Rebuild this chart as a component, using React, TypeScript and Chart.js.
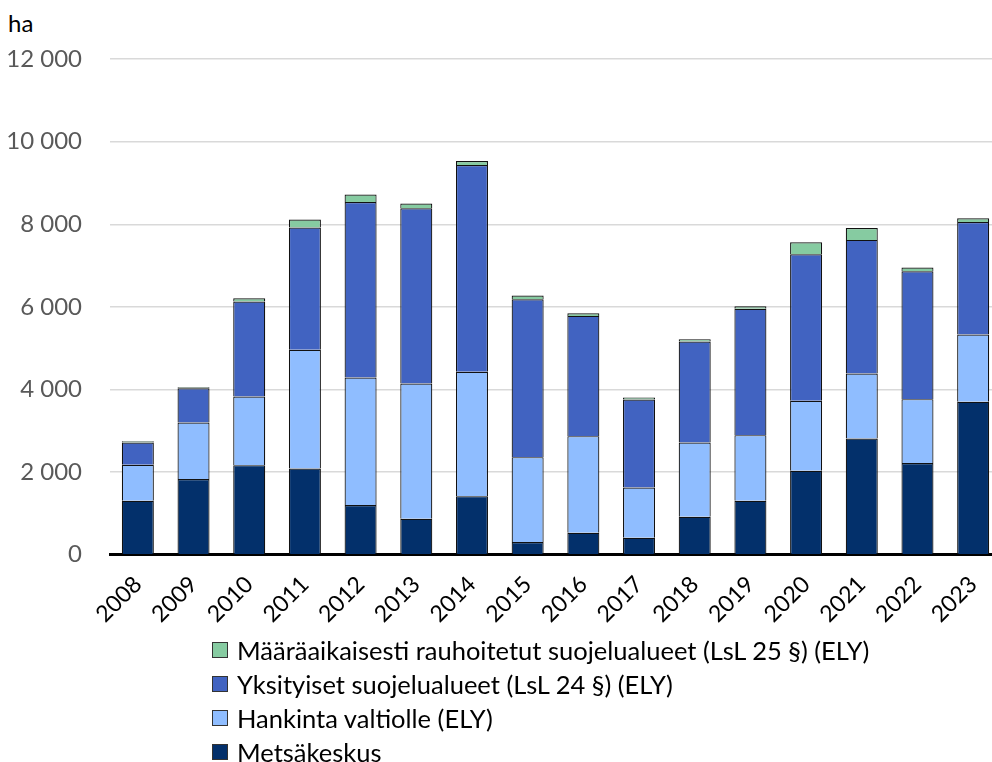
import React, { useEffect, useRef } from "react";
import { Chart, registerables } from "chart.js";

Chart.register(...registerables);

const years = ["2008","2009","2010","2011","2012","2013","2014","2015","2016","2017","2018","2019","2020","2021","2022","2023"];
const metsakeskus = [1306,1831,2169,2089,1202,871,1419,306,532,411,919,1306,2032,2815,2218,3702];
const hankinta = [871,1371,1662,2871,3088,3274,3008,2057,2339,1218,1799,1589,1694,1572,1548,1629];
const yksityiset = [541,830,2298,2959,4250,4242,5008,3822,2911,2129,2443,3057,3548,3234,3097,2725];
const maaraaikaiset = [30,20,81,194,178,113,97,89,65,48,57,64,291,290,89,89];

const seriesNames = [
  "Metsäkeskus",
  "Hankinta valtiolle (ELY)",
  "Yksityiset suojelualueet (LsL 24 §) (ELY)",
  "Määräaikaisesti rauhoitetut suojelualueet (LsL 25 §) (ELY)",
];
const colors = ["#03306b", "#8fbdff", "#4163c1", "#86cba1"];
const yTicks = [0, 2000, 4000, 6000, 8000, 10000, 12000];

const FONT = "Lato, 'Open Sans', sans-serif";

export default function App() {
  const ref = useRef<HTMLCanvasElement | null>(null);

  useEffect(() => {
    if (!ref.current) return;
    const data = [metsakeskus, hankinta, yksityiset, maaraaikaiset];
    const chart = new Chart(ref.current, {
      type: "bar",
      data: {
        labels: years,
        datasets: data.map((d, i) => ({
          label: seriesNames[i],
          data: d,
          backgroundColor: colors[i],
          borderColor: "#111111",
          borderWidth: 1.2,
          barPercentage: 0.575,
          categoryPercentage: 1,
        })),
      },
      options: {
        animation: false,
        responsive: false,
        layout: { padding: { left: 8, top: 59, right: 9, bottom: 4 } },
        plugins: { legend: { display: false }, tooltip: { enabled: false } },
        scales: {
          x: {
            stacked: true,
            grid: { display: false },
            border: { display: true, color: "#000000", width: 3 },
            ticks: {
              color: "#000000",
              font: { family: FONT, size: 23 },
              minRotation: 45,
              maxRotation: 45,
              padding: 8,
            },
          },
          y: {
            stacked: true,
            min: 0,
            max: 12000,
            afterFit: (axis: any) => {
              axis.width = 102;
            },
            afterBuildTicks: (axis: any) => {
              axis.ticks = yTicks.map((v) => ({ value: v }));
            },
            grid: { color: "#d9d9d9", lineWidth: 1.5, drawTicks: false },
            border: { display: false },
            ticks: {
              color: "#595959",
              font: { family: FONT, size: 24 },
              padding: 28,
              callback: (v: any) => {
                const n = Number(v);
                return n >= 1000 ? Math.floor(n / 1000) + " " + String(n % 1000).padStart(3, "0") : String(n);
              },
            },
          },
        },
      },
    });
    return () => chart.destroy();
  }, []);

  const legendOrder = [3, 2, 1, 0];

  return (
    <div style={{ position: "absolute", left: 0, top: 0, width: 992, height: 762, overflow: "hidden", background: "#fff", fontFamily: FONT }}>
      <div style={{ position: "absolute", left: 8, top: 8, fontSize: 24, color: "#000" }}>ha</div>
      <canvas ref={ref} width={1010} height={640} style={{ position: "absolute", left: 0, top: 0 }} />
      <div style={{ position: "absolute", left: 212, top: 633 }}>
        {legendOrder.map((i) => (
          <div key={i} style={{ display: "flex", alignItems: "center", height: 34, fontSize: 25.5, color: "#000", whiteSpace: "nowrap" }}>
            <span style={{ display: "inline-block", width: 14, height: 14, background: colors[i], border: "1px solid #333", marginRight: 9 }} />
            {seriesNames[i]}
          </div>
        ))}
      </div>
    </div>
  );
}
